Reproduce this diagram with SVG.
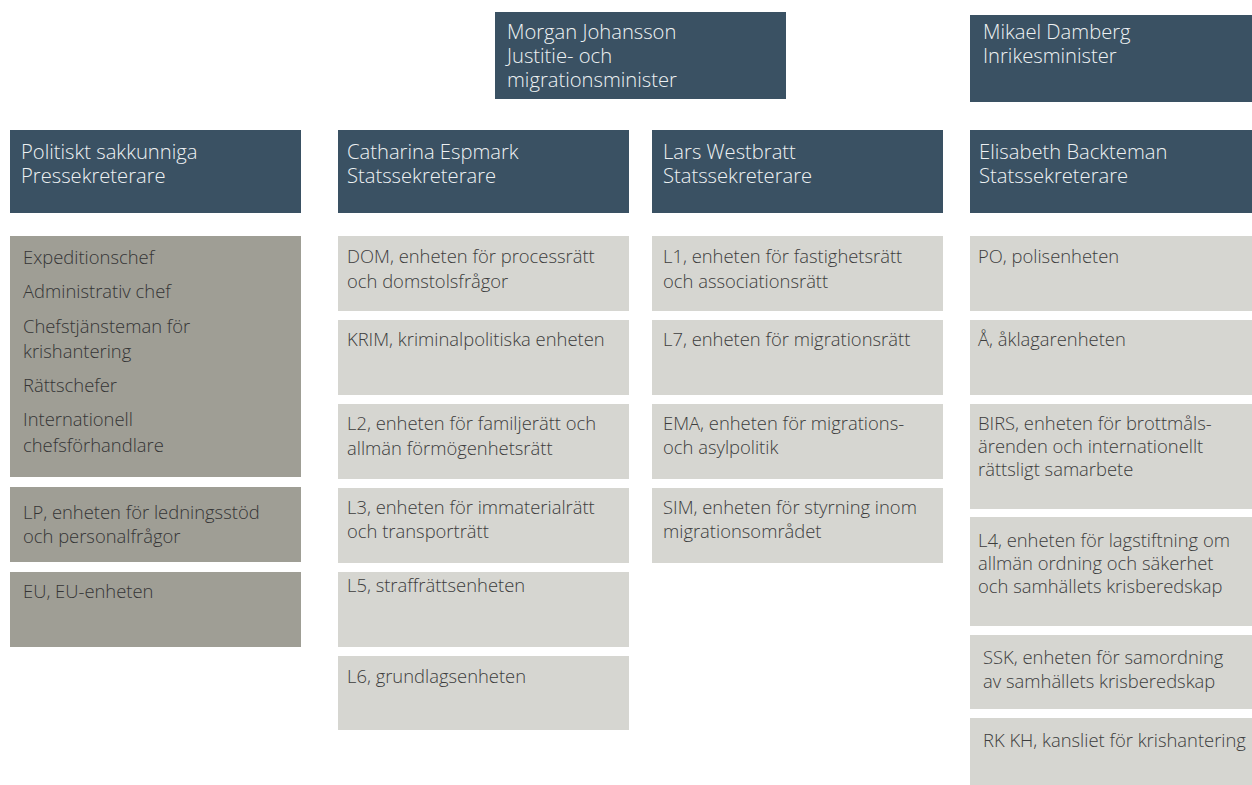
<svg xmlns="http://www.w3.org/2000/svg" width="1252" height="785" viewBox="0 0 1252 785">
<style>
text{font-family:"Open Sans","Noto Sans","Liberation Sans",sans-serif;font-size:18.4px;font-weight:300}
.hd{fill:#3a5163}
.dk{fill:#9f9e95}
.lt{fill:#d6d6d1}
.ht{fill:#eef1f3;font-size:20.2px}
.dt{fill:#353535}
.lx{fill:#3d3d3d}
</style>
<rect width="1252" height="785" fill="#ffffff"/>
<g id="morgan"><rect class="hd" x="495" y="12" width="291" height="87"/><text class="ht" x="507" y="39">Morgan Johansson</text><text class="ht" x="507" y="63">Justitie- och</text><text class="ht" x="507" y="87">migrationsminister</text></g>
<g id="mikael"><rect class="hd" x="970" y="15" width="282" height="87"/><text class="ht" x="983" y="39">Mikael Damberg</text><text class="ht" x="983" y="63">Inrikesminister</text></g>
<g id="politiskt"><rect class="hd" x="10" y="130" width="291" height="83"/><text class="ht" x="21" y="159">Politiskt sakkunniga</text><text class="ht" x="21" y="183">Pressekreterare</text></g>
<g id="catharina"><rect class="hd" x="338" y="130" width="291" height="83"/><text class="ht" x="347" y="159">Catharina Espmark</text><text class="ht" x="347" y="183">Statssekreterare</text></g>
<g id="lars"><rect class="hd" x="652" y="130" width="291" height="83"/><text class="ht" x="663" y="159">Lars Westbratt</text><text class="ht" x="663" y="183">Statssekreterare</text></g>
<g id="elisabeth"><rect class="hd" x="970" y="130" width="282" height="83"/><text class="ht" x="979" y="159">Elisabeth Backteman</text><text class="ht" x="979" y="183">Statssekreterare</text></g>
<g id="chefer"><rect class="dk" x="10" y="236" width="291" height="241"/><text class="dt" x="23" y="264">Expeditionschef</text><text class="dt" x="23" y="298">Administrativ chef</text><text class="dt" x="23" y="333">Chefstjänsteman för</text><text class="dt" x="23" y="358">krishantering</text><text class="dt" x="23" y="392">Rättschefer</text><text class="dt" x="23" y="426">Internationell</text><text class="dt" x="23" y="452">chefsförhandlare</text></g>
<g id="lp"><rect class="dk" x="10" y="487" width="291" height="75"/><text class="dt" x="23" y="519">LP, enheten för ledningsstöd</text><text class="dt" x="23" y="543">och personalfrågor</text></g>
<g id="eu"><rect class="dk" x="10" y="572" width="291" height="75"/><text class="dt" x="23" y="598">EU, EU-enheten</text></g>
<g id="dom"><rect class="lt" x="338" y="236" width="291" height="75"/><text class="lx" x="347" y="263">DOM, enheten för processrätt</text><text class="lx" x="347" y="288">och domstolsfrågor</text></g>
<g id="krim"><rect class="lt" x="338" y="320" width="291" height="75"/><text class="lx" x="347" y="346">KRIM, kriminalpolitiska enheten</text></g>
<g id="l2"><rect class="lt" x="338" y="404" width="291" height="75"/><text class="lx" x="347" y="430">L2, enheten för familjerätt och</text><text class="lx" x="347" y="455">allmän förmögenhetsrätt</text></g>
<g id="l3"><rect class="lt" x="338" y="488" width="291" height="75"/><text class="lx" x="347" y="514">L3, enheten för immaterialrätt</text><text class="lx" x="347" y="538">och transporträtt</text></g>
<g id="l5"><rect class="lt" x="338" y="572" width="291" height="75"/><text class="lx" x="347" y="592">L5, straffrättsenheten</text></g>
<g id="l6"><rect class="lt" x="338" y="656" width="291" height="74"/><text class="lx" x="347" y="683">L6, grundlagsenheten</text></g>
<g id="l1"><rect class="lt" x="652" y="236" width="291" height="75"/><text class="lx" x="663" y="263">L1, enheten för fastighetsrätt</text><text class="lx" x="663" y="288">och associationsrätt</text></g>
<g id="l7"><rect class="lt" x="652" y="320" width="291" height="75"/><text class="lx" x="663" y="346">L7, enheten för migrationsrätt</text></g>
<g id="ema"><rect class="lt" x="652" y="404" width="291" height="75"/><text class="lx" x="663" y="430">EMA, enheten för migrations-</text><text class="lx" x="663" y="454">och asylpolitik</text></g>
<g id="sim"><rect class="lt" x="652" y="488" width="291" height="75"/><text class="lx" x="663" y="514">SIM, enheten för styrning inom</text><text class="lx" x="663" y="538">migrationsområdet</text></g>
<g id="po"><rect class="lt" x="970" y="236" width="282" height="75"/><text class="lx" x="978" y="263">PO, polisenheten</text></g>
<g id="aklagar"><rect class="lt" x="970" y="320" width="282" height="75"/><text class="lx" x="978" y="346">Å, åklagarenheten</text></g>
<g id="birs"><rect class="lt" x="970" y="404" width="282" height="105"/><text class="lx" x="978" y="430">BIRS, enheten för brottmåls-</text><text class="lx" x="978" y="453">ärenden och internationellt</text><text class="lx" x="978" y="476">rättsligt samarbete</text></g>
<g id="l4"><rect class="lt" x="970" y="517" width="282" height="109"/><text class="lx" x="978" y="547">L4, enheten för lagstiftning om</text><text class="lx" x="978" y="570">allmän ordning och säkerhet</text><text class="lx" x="978" y="593">och samhällets krisberedskap</text></g>
<g id="ssk"><rect class="lt" x="970" y="635" width="282" height="74"/><text class="lx" x="983" y="664">SSK, enheten för samordning</text><text class="lx" x="983" y="688">av samhällets krisberedskap</text></g>
<g id="rkkh"><rect class="lt" x="970" y="718" width="282" height="67"/><text class="lx" x="983" y="747">RK KH, kansliet för krishantering</text></g>
<g id="connectors"></g>
</svg>
